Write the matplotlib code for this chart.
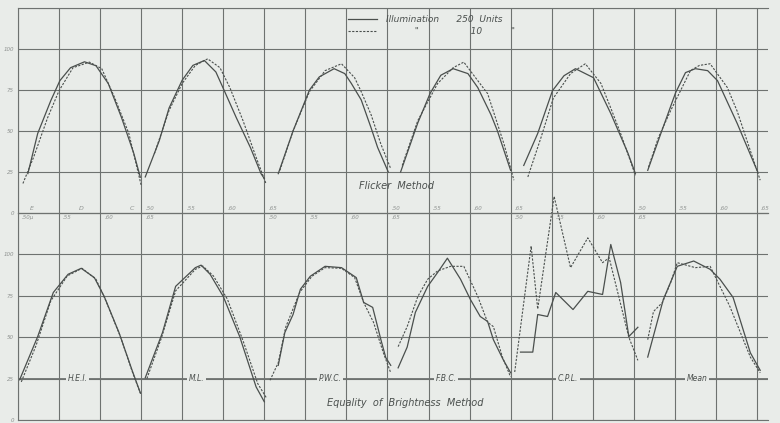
import matplotlib
matplotlib.use('Agg')
import matplotlib.pyplot as plt
from matplotlib.lines import Line2D

plt.rcParams['font.family'] = ['DejaVu Sans']

PAPER = '#e9ece9'
INK = '#4a4f4d'
GRID = '#6e7270'
FAINT = '#8e9290'

observers = ['H.E.I.', 'M.L.', 'P.W.C.', 'F.B.C.', 'C.P.L.', 'Mean']
wl_ticks = [.50, .55, .60, .65]
line_names = ['E', 'D', 'C']
line_wl = [.517, .577, .639]

# flicker method, illumination 250 units (solid)
flicker_250_wl = [
    [.512, .524, .540, .551, .564, .581, .595, .610, .626, .641, .649],
    [.505, .522, .534, .550, .563, .577, .591, .600, .616, .633, .646, .650],
    [.517, .535, .555, .567, .585, .598, .606, .618, .630, .638, .651],
    [.516, .537, .552, .565, .580, .598, .610, .626, .634, .650],
    [.516, .533, .551, .565, .579, .601, .622, .643, .652],
    [.517, .533, .551, .563, .575, .590, .602, .626, .640, .651],
]
flicker_250_val = [
    [24, 48.5, 68.6, 80.7, 88.6, 92.2, 89.8, 78.9, 58.3, 36.4, 21.8],
    [22, 44, 64, 81, 90, 93, 86, 76, 58, 40, 24, 21],
    [24, 50, 75, 83, 88, 85, 79, 69, 52, 40, 25],
    [25, 55, 73, 84, 88, 85, 76.5, 60, 50, 26],
    [29, 48.5, 74.6, 83.7, 88, 82.5, 60.7, 36.4, 24],
    [26, 48.5, 73.4, 85.6, 88, 86.8, 80.7, 54.6, 38, 25],
]

# flicker method, illumination 10 units (dotted)
flicker_10_wl = [
    [.506, .519, .536, .550, .567, .587, .602, .618, .635, .650],
    [.516, .534, .550, .566, .581, .596, .608, .624, .640, .652],
    [.519, .535, .555, .574, .594, .610, .618, .630, .642, .654],
    [.518, .537, .561, .580, .593, .610, .622, .642, .654],
    [.521, .537, .552, .573, .591, .610, .622, .634, .652],
    [.518, .530, .545, .569, .580, .593, .614, .626, .638, .654],
]
flicker_10_val = [
    [18, 34, 58, 74.6, 88.6, 92, 88, 70, 48.5, 17],
    [36, 62.5, 79, 90, 94, 88.6, 76.5, 56.4, 34, 18],
    [26, 50, 74, 86.8, 91, 82.5, 74, 60, 42, 27],
    [29, 56.4, 78.9, 88.6, 92, 80.7, 72.8, 42, 20],
    [22, 46, 70, 85, 91, 79, 64, 48.5, 23],
    [28, 46, 62.5, 86.8, 90, 91, 76.5, 62, 44, 20],
]

# equality of brightness method, illumination 250 units (solid)
bright_250_wl = [
    [.502, .524, .543, .561, .577, .593, .605, .623, .639, .649],
    [.505, .526, .542, .566, .573, .584, .600, .620, .640, .650],
    [.517, .525, .535, .544, .556, .574, .594, .612, .621, .632, .642, .648, .654],
    [.513, .524, .534, .549, .561, .573, .589, .601, .613, .622, .629, .641, .650],
    [.512, .527, .533, .545, .555, .576, .594, .612, .622, .634, .644, .655],
    [.517, .536, .553, .573, .593, .605, .621, .642, .654],
]
bright_250_val = [
    [24.3, 50.4, 77, 88, 91.6, 86, 74.6, 52.8, 30, 16.4],
    [25.5, 52.8, 80.7, 92, 93.5, 88, 74.6, 50.4, 20, 11],
    [33, 52.8, 63.7, 79, 86.8, 92.8, 92, 86, 71, 68, 48.5, 37.6, 33],
    [31.5, 44, 65, 80.7, 89, 97.7, 85, 72.8, 62.5, 59.5, 48.5, 36.4, 28.5],
    [41, 41, 63.7, 62.5, 77, 66.7, 77.7, 75.8, 106, 83, 50.4, 56],
    [38, 72.8, 92.8, 96, 91, 85, 74, 40.6, 30],
]

# equality of brightness method, illumination 10 units (dotted)
bright_10_wl = [
    [.504, .522, .540, .560, .578, .595, .607, .625, .640, .650],
    [.507, .525, .542, .566, .575, .588, .605, .624, .642, .653],
    [.507, .517, .526, .543, .558, .574, .594, .610, .621, .633, .645, .654],
    [.513, .524, .537, .549, .561, .577, .593, .610, .622, .629, .640, .650],
    [.505, .525, .533, .553, .573, .594, .612, .620, .644, .655],
    [.517, .524, .535, .545, .553, .575, .593, .617, .642, .654],
]
bright_10_val = [
    [23, 45, 72, 87, 91.6, 85, 72, 50, 28, 15],
    [25, 50, 78, 91, 93, 87, 73, 48, 22, 13],
    [24, 34.6, 56, 77, 86.8, 92, 91.6, 86, 71, 59, 40.6, 28.5],
    [44.3, 56.4, 74.6, 85, 90, 92.8, 92.8, 74.6, 59, 56.4, 38, 26],
    [29, 105, 67, 135, 92, 110, 95, 98, 50, 36],
    [48.5, 65.5, 71, 83, 95, 92, 92.8, 68.6, 38, 28.5],
]

# where the observer names sit on the 25 line
label_pos = [1.45, 4.34, 7.6, 10.43, 13.4, 16.54]

DOTS = (0, (2, 1.3))


def to_x(i, wl):
    # each observer gets 3 grid divisions, .50 to .65
    return [3 * i + (w - 0.50) / 0.05 for w in wl]


def style_axes(ax):
    ax.set_facecolor('none')
    ax.set_xlim(0, 18.27)
    ax.set_ylim(0, 125)
    ax.set_xticks(range(19))
    ax.set_yticks([0, 25, 50, 75, 100, 125])
    ax.set_yticklabels(['0', '25', '50', '75', '100', ''])
    ax.grid(True, color=GRID, lw=0.8)
    ax.set_axisbelow(True)
    ax.tick_params(length=0, labelbottom=False, labelsize=4, labelcolor=FAINT, pad=3)
    for lab in ax.get_yticklabels():
        lab.set_style('italic')
    for side in ['left', 'top', 'bottom']:
        ax.spines[side].set_color(GRID)
        ax.spines[side].set_linewidth(0.8)
    ax.spines['right'].set_visible(False)


fig = plt.figure(figsize=(7.8, 4.23), dpi=100, facecolor=PAPER)
ax_top = fig.add_axes([18 / 780, 210 / 423, 750 / 780, 205 / 423])
ax_bot = fig.add_axes([18 / 780, 3 / 423, 750 / 780, 207 / 423])
style_axes(ax_top)
style_axes(ax_bot)
ax_bot.axhline(25, color=GRID, lw=1.3, zorder=1)

for i in range(len(observers)):
    ax_top.plot(to_x(i, flicker_250_wl[i]), flicker_250_val[i], color=INK, lw=0.9)
    ax_top.plot(to_x(i, flicker_10_wl[i]), flicker_10_val[i], color=INK, lw=0.8, ls=DOTS)
    ax_bot.plot(to_x(i, bright_250_wl[i]), bright_250_val[i], color=INK, lw=0.9, clip_on=False)
    ax_bot.plot(to_x(i, bright_10_wl[i]), bright_10_val[i], color=INK, lw=0.8, ls=DOTS, clip_on=False)

    ax_bot.text(label_pos[i], 25, observers[i], ha='center', va='center', fontsize=5.5,
                style='italic', color=INK, zorder=3,
                bbox=dict(facecolor=PAPER, edgecolor='none', pad=1.2))

    # wavelength marks: odd observers above the middle line, even ones below
    for w in wl_ticks:
        t = f'{w:.2f}'[1:]
        if i == 0 and w == .50:
            t += 'μ'
        x = to_x(i, [w])[0] + 0.1
        if i % 2:
            ax_top.text(x, 1.5, t, va='bottom', fontsize=4, style='italic', color=FAINT)
        else:
            ax_bot.text(x, 123.5, t, va='top', fontsize=4, style='italic', color=FAINT)

for name, w in zip(line_names, line_wl):
    ax_top.text(to_x(0, [w])[0], 1.5, name, va='bottom', ha='center', fontsize=4.5,
                style='italic', color=FAINT)

ax_top.text(9.23, 16.4, 'Flicker  Method', ha='center', va='center', fontsize=7,
            style='italic', color=INK)
ax_bot.text(9.43, 10.3, 'Equality  of  Brightness  Method', ha='center', va='center',
            fontsize=7, style='italic', color=INK)

handles = [Line2D([], [], color=INK, lw=0.9), Line2D([], [], color=INK, lw=0.8, ls=DOTS)]
fig.legend(handles, ['Illumination      250  Units',
                     '          "                  10          "'],
           loc='upper left', bbox_to_anchor=(348 / 780, 1 - 15 / 423), frameon=False,
           prop={'style': 'italic', 'size': 6.5}, labelcolor=INK, handlelength=3.2,
           handletextpad=1.0, labelspacing=0.35, borderpad=0, borderaxespad=0)

fig.savefig('out.png', dpi=100, facecolor=PAPER)
